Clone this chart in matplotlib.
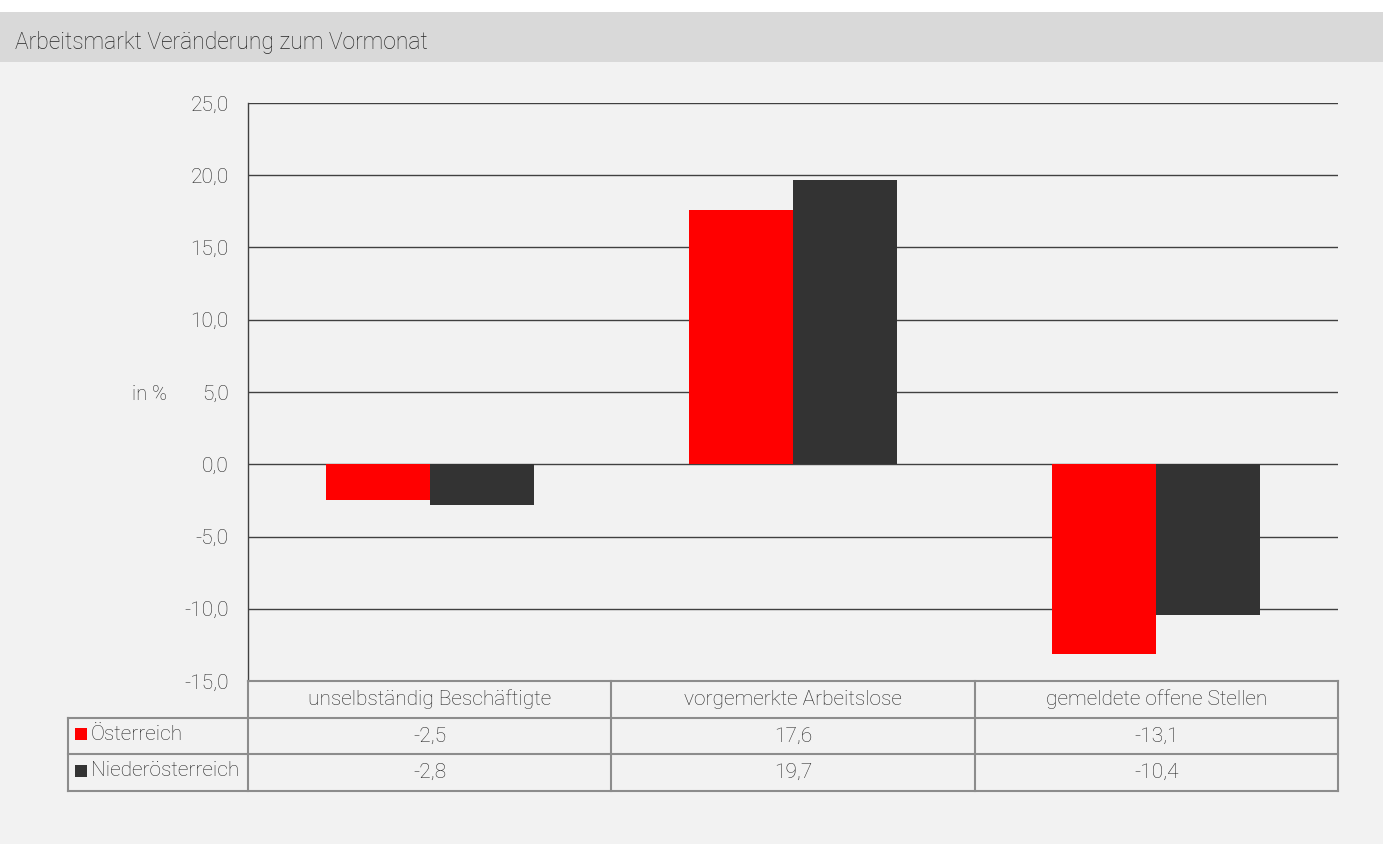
import numpy as np
import matplotlib.pyplot as plt
from matplotlib.patches import Rectangle

plt.rcParams['font.family'] = ['Roboto', 'DejaVu Sans']
plt.rcParams['font.weight'] = 'light'

title = "Arbeitsmarkt Veränderung zum Vormonat"
categories = ["unselbständig Beschäftigte", "vorgemerkte Arbeitslose", "gemeldete offene Stellen"]
series_names = ["Österreich", "Niederösterreich"]
oesterreich = [-2.5, 17.6, -13.1]
niederoesterreich = [-2.8, 19.7, -10.4]
yticks = [-15, -10, -5, 0, 5, 10, 15, 20, 25]

colors = ["#ff0000", "#333333"]
txtc = "#262626"
W, H = 1383, 844
fig = plt.figure(figsize=(W / 100, H / 100), dpi=100)
fig.patch.set_facecolor("#f2f2f2")

def px(x0, y0, x1, y1):
    return [x0 / W, 1 - y1 / H, (x1 - x0) / W, (y1 - y0) / H]

# header band
fig.patches.append(Rectangle((0, 1 - 12 / H), 1, 12 / H, transform=fig.transFigure,
                             facecolor="white", edgecolor="none", zorder=0))
fig.patches.append(Rectangle((0, 1 - 62 / H), 1, 50 / H, transform=fig.transFigure,
                             facecolor="#d9d9d9", edgecolor="none", zorder=0))
fig.text(15 / W, 1 - 42 / H, title, fontsize=16.5, color=txtc, va="center", ha="left")

# main chart
ax = fig.add_axes(px(248, 103, 1338, 681))
ax.set_facecolor("#f2f2f2")
x = np.arange(len(categories))
bw = 0.286
ax.bar(x - bw / 2, oesterreich, bw, color=colors[0], zorder=3)
ax.bar(x + bw / 2, niederoesterreich, bw, color=colors[1], zorder=3)
ax.set_xlim(-0.5, 2.5)
ax.set_ylim(-15, 25)
ax.set_yticks(yticks)
ax.set_yticklabels([f"{v:.1f}".replace(".", ",") for v in yticks], fontsize=15, color=txtc)
ax.set_xticks([])
ax.tick_params(axis="y", length=0, pad=14)
for v in yticks[1:]:
    ax.axhline(v, color="#404040", lw=1, zorder=2)
for s in ["top", "right", "bottom"]:
    ax.spines[s].set_visible(False)
ax.spines["left"].set_color("#404040")
ax.spines["left"].set_linewidth(1)
fig.text(150 / W, 1 - 395 / H, "in %", fontsize=14.5, color=txtc, ha="center", va="center")

# data table
lab_w = 180 / ((1338 - 248) / 3)
tx = fig.add_axes(px(68, 681, 1338, 791))
tx.set_xlim(-0.5 - lab_w, 2.5)
tx.set_ylim(3, 0)
tx.axis("off")
lc = "#8c8c8c"
tx.plot([-0.5, 2.5], [0, 0], color=lc, lw=1.5, clip_on=False)
for yy in [1, 2, 3]:
    tx.plot([-0.5 - lab_w, 2.5], [yy, yy], color=lc, lw=1.5, clip_on=False)
tx.plot([-0.5 - lab_w, -0.5 - lab_w], [1, 3], color=lc, lw=1.5, clip_on=False)
for xx in [-0.5, 0.5, 1.5, 2.5]:
    tx.plot([xx, xx], [0, 3], color=lc, lw=1.5, clip_on=False)
for i, c in enumerate(categories):
    tx.text(i, 0.5, c, ha="center", va="center", fontsize=15, color=txtc)
rows = [oesterreich, niederoesterreich]
u = (2.5 + 0.5 + lab_w) / 1270  # data units per pixel
for r, (name, vals) in enumerate(zip(series_names, rows)):
    tx.add_patch(Rectangle((-0.5 - lab_w + 7 * u, r + 1.45 - 0.17), 12 * u, 0.34,
                           facecolor=colors[r], edgecolor="none"))
    tx.text(-0.5 - lab_w + 23 * u, r + 1.45, name, ha="left", va="center", fontsize=15, color=txtc)
    for i, v in enumerate(vals):
        tx.text(i, r + 1.5, f"{v:.1f}".replace(".", ","), ha="center", va="center",
                fontsize=15, color=txtc)

fig.savefig("out.png", dpi=100, facecolor=fig.get_facecolor())
